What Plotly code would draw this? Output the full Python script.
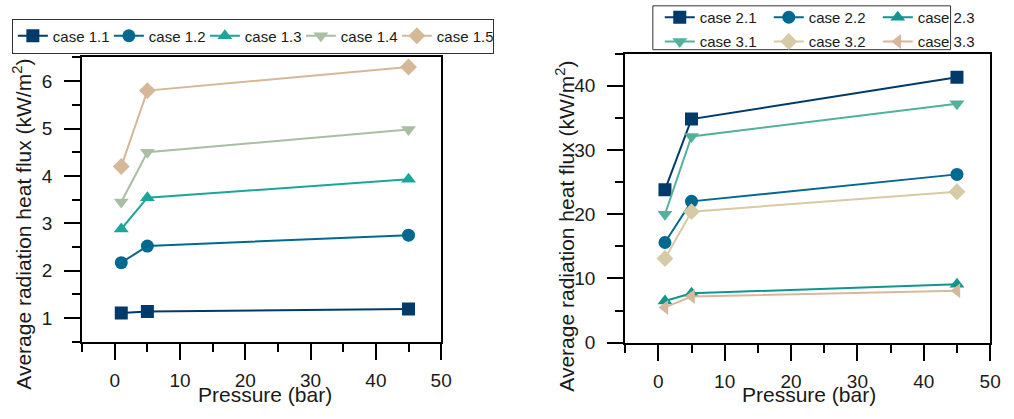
import plotly.graph_objects as go

W, H = 1014, 419

pressure = [1, 5, 45]

left_names = ["case 1.1", "case 1.2", "case 1.3", "case 1.4", "case 1.5"]
left_values = [
    [1.11, 1.14, 1.19],
    [2.17, 2.52, 2.75],
    [2.88, 3.54, 3.93],
    [3.45, 4.50, 4.98],
    [4.20, 5.80, 6.30],
]
left_colors = ["#003a6b", "#00698f", "#1ba69b", "#a9bea3", "#d4b898"]
left_symbols = ["square", "circle", "triangle-up", "triangle-down", "diamond"]

right_names = ["case 2.1", "case 2.2", "case 2.3", "case 3.1", "case 3.2", "case 3.3"]
right_values = [
    [23.8, 34.8, 41.3],
    [15.6, 22.0, 26.2],
    [6.5, 7.7, 9.1],
    [20.0, 32.1, 37.2],
    [13.1, 20.4, 23.5],
    [5.5, 7.2, 8.1],
]
right_colors = ["#003a6b", "#00698f", "#11958f", "#53b19b", "#d6cba5", "#d9b79a"]
right_symbols = ["square", "circle", "triangle-up", "triangle-down", "diamond", "triangle-left"]

x_ticks = [0, 10, 20, 30, 40, 50]
left_y_ticks = [1, 2, 3, 4, 5, 6]
right_y_ticks = [0, 10, 20, 30, 40]

FONT = "Liberation Sans, Arial, sans-serif"
TXT = "#1a1a1a"

fig = go.Figure()

for n, v, c, s in zip(left_names, left_values, left_colors, left_symbols):
    fig.add_trace(go.Scatter(
        x=pressure, y=v, name=n, mode="lines+markers",
        line=dict(color=c, width=2),
        marker=dict(color=c, symbol=s, size=13),
        xaxis="x", yaxis="y", legend="legend",
    ))

for i, (n, v, c, s) in enumerate(zip(right_names, right_values, right_colors, right_symbols)):
    fig.add_trace(go.Scatter(
        x=pressure, y=v, name=n, mode="lines+markers",
        line=dict(color=c, width=2),
        marker=dict(color=c, symbol=s, size=13),
        xaxis="x2", yaxis="y2", legend="legend2" if i < 3 else "legend3",
    ))


def px_x(p):
    return p / W


def px_y(p):
    return 1 - p / H


def axis_style(ticklen):
    return dict(
        showline=True, linecolor="black", linewidth=2, mirror=True,
        ticks="outside", ticklen=ticklen, tickwidth=2, tickcolor="black",
        showgrid=False, zeroline=False,
        tickfont=dict(family=FONT, size=19, color=TXT),
    )


minor_common = dict(ticks="outside", ticklen=8, tickwidth=2, tickcolor="black")

L_x0, L_x1, L_y0, L_y1 = 83, 446, 59, 351
R_x0, R_x1, R_y0, R_y1 = 632, 1001, 55, 352

legend_font = dict(family=FONT, size=15, color=TXT)

fig.update_layout(
    width=W, height=H,
    margin=dict(l=0, r=0, t=0, b=0),
    paper_bgcolor="white", plot_bgcolor="white",
    font=dict(family=FONT),
    xaxis=dict(domain=[px_x(L_x0), px_x(L_x1)], range=[-5, 50], tickvals=x_ticks,
               minor=dict(dtick=5, tick0=-5, **minor_common), ticklabelstandoff=4,
               anchor="y", **axis_style(16)),
    yaxis=dict(domain=[px_y(L_y1), px_y(L_y0)], range=[0.5, 6.5], tickvals=left_y_ticks,
               minor=dict(dtick=0.5, tick0=0.5, **minor_common), ticklabelstandoff=8,
               anchor="x", **axis_style(16)),
    xaxis2=dict(domain=[px_x(R_x0), px_x(R_x1)], range=[-5, 50], tickvals=x_ticks,
                minor=dict(dtick=5, tick0=-5, **minor_common), ticklabelstandoff=4,
                anchor="y2", **axis_style(16)),
    yaxis2=dict(domain=[px_y(R_y1), px_y(R_y0)], range=[0, 45], tickvals=right_y_ticks,
                minor=dict(dtick=5, tick0=0, **minor_common), ticklabelstandoff=8,
                anchor="x2", **axis_style(16)),
    legend=dict(orientation="h", x=px_x(12), y=px_y(19), xanchor="left", yanchor="top",
                bordercolor="#333", borderwidth=1, bgcolor="white",
                font=legend_font, entrywidth=51, tracegroupgap=0, itemwidth=30),
    legend2=dict(orientation="h", x=px_x(667), y=px_y(1), xanchor="left", yanchor="top",
                 borderwidth=0, bgcolor="rgba(0,0,0,0)",
                 font=legend_font, entrywidth=64, itemwidth=30),
    legend3=dict(orientation="h", x=px_x(667), y=px_y(26), xanchor="left", yanchor="top",
                 borderwidth=0, bgcolor="rgba(0,0,0,0)",
                 font=legend_font, entrywidth=64, itemwidth=30),
    shapes=[dict(type="rect", xref="paper", yref="paper",
                 x0=px_x(660), x1=px_x(961), y0=px_y(51), y1=px_y(6),
                 line=dict(color="#333", width=1), fillcolor="rgba(0,0,0,0)", layer="below")],
    annotations=[
        dict(text="Average radiation heat flux (kW/m<sup>2</sup>)", xref="paper", yref="paper",
             x=px_x(22), y=px_y(230), textangle=-90, showarrow=False,
             font=dict(family=FONT, size=21, color=TXT), xanchor="center", yanchor="middle"),
        dict(text="Average radiation heat flux (kW/m<sup>2</sup>)", xref="paper", yref="paper",
             x=px_x(571), y=px_y(232), textangle=-90, showarrow=False,
             font=dict(family=FONT, size=21, color=TXT), xanchor="center", yanchor="middle"),
        dict(text="Pressure (bar)", xref="paper", yref="paper",
             x=px_x(268), y=px_y(405), showarrow=False,
             font=dict(family=FONT, size=21, color=TXT), xanchor="center", yanchor="middle"),
        dict(text="Pressure (bar)", xref="paper", yref="paper",
             x=px_x(818), y=px_y(405), showarrow=False,
             font=dict(family=FONT, size=21, color=TXT), xanchor="center", yanchor="middle"),
    ],
)

fig.write_html("out.html")
